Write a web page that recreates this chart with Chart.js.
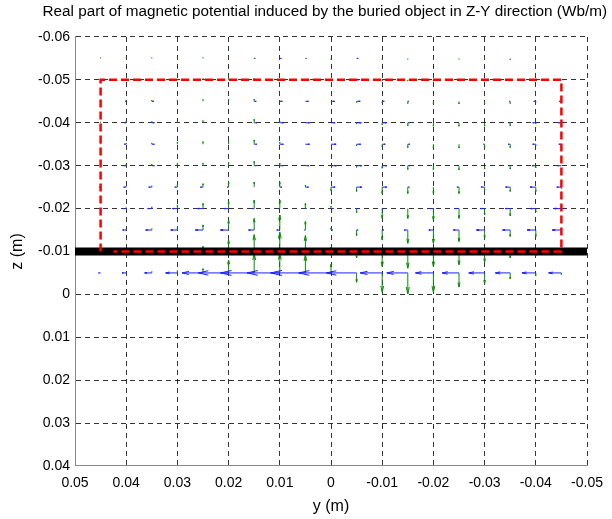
<!DOCTYPE html>
<html lang="en">
<head>
    <meta charset="UTF-8">
    <title>Real part of magnetic potential - Z-Y quiver</title>
    <script src="https://cdn.jsdelivr.net/npm/chart.js"></script>
    <style>
        html, body {
            margin: 0;
            padding: 0;
            background-color: #fff;
        }
        canvas {
            display: block;
        }
    </style>
</head>
<body>
    <canvas id="quiver" width="612" height="519"></canvas>

    <script>
        // quiver grid (m)
        const yCols = [0.045, 0.04, 0.035, 0.03, 0.025, 0.02, 0.015, 0.01, 0.005, 0,
                       -0.005, -0.01, -0.015, -0.02, -0.025, -0.03, -0.035, -0.04, -0.045];
        const zRows = [-0.055, -0.05, -0.045, -0.04, -0.035, -0.03, -0.025, -0.02, -0.015, -0.01, -0.005];

        // y component (blue), in mm, one row per z; + points to +y
        const uRows = [
            [0, 0, 0, 0, 0, 0, -0.2, -0.3, -0.2, 0, -0.3, 0, 0, 0, 0, 0, 0, 0, 0],
            [0, 0, 0, 0, 0, 0, -0.3, -0.4, -0.4, -0.3, -0.4, -0.2, 0, 0, 0, 0, 0, 0.2, 0.2],
            [0, 0.2, -0.4, 0, 0, 0, -0.4, -0.5, -0.6, -0.7, -0.7, -0.4, -0.2, 0, 0, 0, 0.2, 0.4, 0.4],
            [0, 0.3, -0.5, 0, 0, 0, -0.5, -0.7, -0.8, -0.8, -0.9, -0.8, -0.3, 0, 0, 0, 0.3, 0.6, 0.6],
            [0, 0.4, -0.5, 0, 0, 0, -0.5, -0.7, -0.8, -1.0, -0.8, -0.6, -0.4, 0, 0, 0.2, 0.4, 0.6, 0.5],
            [0, 0.5, -0.5, 0, 0, 0, -0.4, -0.6, -0.7, -1.1, -1.0, -0.9, -0.4, 0, 0, 0, 0.3, 0.7, 0.8],
            [0.2, 0.5, 0.6, 0.5, 0.5, 0.3, 0, -0.4, -0.6, -0.8, -1.0, -0.9, -0.3, 0, 0.4, 0.7, 0.9, 1.1, 0.9],
            [0.2, 0.6, 0.8, 1.0, 1.1, 0.9, 0.5, 0.2, -0.2, -0.5, -0.5, -0.4, 0, 0.6, 0.8, 0.9, 1.0, 1.1, 1.5],
            [0, 0.7, 1.2, 1.3, 1.5, 1.6, 1.1, 0.6, 0.2, -0.3, -0.3, -0.3, 0.7, 0.9, 1.1, 1.6, 1.5, 1.7, 1.8],
            [0.3, 0.8, 1.5, 2.0, 2.5, 2.5, 2.0, 1.5, 1.0, 0.5, 0.5, 1.0, 1.5, 1.8, 2.0, 2.0, 2.0, 2.0, 2.0],
            [0.4, 0.8, 1.4, 2.3, 4.1, 5.9, 6.6, 6.4, 6.8, 6.3, 5.9, 4.3, 4.1, 3.5, 3.3, 3.1, 2.9, 2.7, 2.5]
        ];

        // z component (green), in mm, one row per z; + points to +z
        const vRows = [
            [-0.2, -0.2, -0.2, -0.2, -0.2, -0.2, -0.1, 0, 0, 0.2, 0, 0.2, 0.2, 0.2, 0.2, 0.2, 0.3, 0, 0],
            [-0.2, -0.2, -0.2, -0.2, -0.3, -0.3, -0.3, 0, 0, 0, 0, 0.2, 0.3, 0.3, 0.3, 0.3, 0.3, 0.2, 0],
            [-0.2, -0.2, -0.3, -0.3, -0.4, -0.5, -0.5, -0.2, 0, 0, 0.3, 0.3, 0.5, 0.6, 0.6, 0.6, 0.5, 0.2, 0],
            [-0.2, -0.3, -0.3, -0.4, -0.5, -0.6, -0.8, -0.3, 0, 0, 0.3, 0.5, 0.7, 0.8, 0.8, 0.8, 0.7, 0.3, 0],
            [-0.2, -0.3, -0.3, -0.5, -0.6, -0.7, -1.0, -0.5, 0, 0, 0.4, 0.6, 0.8, 0.9, 0.9, 0.8, 0.8, 0.4, 0],
            [-0.2, -0.3, -0.4, -0.5, -0.6, -0.8, -1.0, -0.6, 0, 0, 0.4, 0.6, 0.9, 0.9, 1.0, 0.8, 0.8, 0.5, 0],
            [0, -0.2, -0.3, -0.6, -0.8, -1.2, -1.2, -1.2, -0.5, 0.8, 1.0, 1.5, 1.5, 1.5, 1.5, 0.8, 1.0, 1.0, 0.3],
            [0, -0.2, -0.4, -0.8, -1.2, -1.7, -2.0, -2.0, -1.2, -0.6, 1.0, 2.3, 2.3, 2.7, 2.3, 1.5, 1.7, 0.8, 0.3],
            [0, -0.2, -0.3, -0.6, -1.2, -2.3, -2.7, -3.5, -2.0, -0.5, 1.3, 2.3, 3.1, 3.1, 2.7, 1.9, 1.5, 1.5, 0.7],
            [0, -0.2, -0.4, -0.8, -1.2, -2.7, -3.9, -4.5, -3.7, -1.0, 1.5, 3.5, 3.9, 3.5, 3.1, 2.5, 1.5, 1.0, 0.5],
            [0, -0.2, -0.3, -0.5, -1.0, -3.0, -4.5, -4.6, -4.2, -2.0, 2.2, 4.5, 4.9, 4.5, 3.3, 2.5, 1.4, 0.6, 0.4]
        ];

        // buried object outline (red) and ground surface (black)
        const objectY = [0.045, 0.045, -0.045, -0.045, 0.0425];
        const objectZ = [-0.01, -0.05, -0.05, -0.01, -0.01];
        const surfaceY = [0.05, -0.05];
        const surfaceZ = [-0.01, -0.01];

        // axis limits
        const yLimits = [-0.05, 0.05];
        const zLimits = [-0.06, 0.04];
        const tickStep = 0.01;

        const fmtTick = v => {
            const r = Math.round(v * 100) / 100;
            return r === 0 ? '0' : String(r);
        };

        // matlab-like arrow: shaft + two head strokes
        function drawArrow(ctx, sx, sy, py, pz, du, dv, color) {
            const x0 = sx.getPixelForValue(py), y0 = sy.getPixelForValue(pz);
            const x1 = sx.getPixelForValue(py + du), y1 = sy.getPixelForValue(pz + dv);
            const dx = x1 - x0, dy = y1 - y0;
            const a = 0.33, b = 0.22;
            ctx.strokeStyle = color;
            ctx.beginPath();
            ctx.moveTo(x0, y0);
            ctx.lineTo(x1, y1);
            ctx.moveTo(x1 - a * (dx + b * dy), y1 - a * (dy - b * dx));
            ctx.lineTo(x1, y1);
            ctx.lineTo(x1 - a * (dx - b * dy), y1 - a * (dy + b * dx));
            ctx.stroke();
        }

        const quiverPlugin = {
            id: 'quiver',
            beforeDatasetsDraw(chart) {
                const {ctx, chartArea, scales: {x, y}} = chart;
                ctx.save();
                ctx.beginPath();
                ctx.rect(chartArea.left, chartArea.top, chartArea.width, chartArea.height);
                ctx.clip();
                ctx.lineWidth = 1;
                zRows.forEach((z, r) => {
                    yCols.forEach((yy, c) => {
                        drawArrow(ctx, x, y, yy, z, uRows[r][c] * 1e-3, 0, '#1f1fff');
                        drawArrow(ctx, x, y, yy, z, 0, vRows[r][c] * 1e-3, '#0a8a0a');
                    });
                });
                ctx.restore();
            }
        };

        Chart.defaults.font.family = '"Liberation Sans", Arial, sans-serif';
        Chart.defaults.color = '#000';

        const ctx = document.getElementById('quiver').getContext('2d');
        new Chart(ctx, {
            type: 'scatter',
            data: {
                datasets: [{
                    label: 'Object',
                    data: objectY.map((v, i) => ({x: v, y: objectZ[i]})),
                    showLine: true,
                    borderColor: '#ff0000',
                    borderWidth: 2.5,
                    borderDash: [8, 4],
                    pointRadius: 0,
                    fill: false
                },
                {
                    label: 'Surface',
                    data: surfaceY.map((v, i) => ({x: v, y: surfaceZ[i]})),
                    showLine: true,
                    borderColor: '#000',
                    borderWidth: 8,
                    pointRadius: 0,
                    fill: false
                }]
            },
            options: {
                responsive: false,
                animation: false,
                layout: {
                    padding: {left: 0, right: 5, top: 0, bottom: 0}
                },
                plugins: {
                    legend: {display: false},
                    tooltip: {enabled: false},
                    title: {
                        display: true,
                        align: 'end',
                        text: 'Real part of magnetic potential induced by the buried object in Z-Y direction (Wb/m)',
                        font: {size: 15.3, weight: 'normal'},
                        color: '#000',
                        padding: {top: 3, bottom: 15.6}
                    }
                },
                scales: {
                    x: {
                        type: 'linear',
                        reverse: true,
                        min: yLimits[0],
                        max: yLimits[1],
                        ticks: {
                            stepSize: tickStep,
                            callback: fmtTick,
                            font: {size: 14},
                            padding: 9,
                            maxRotation: 0,
                            autoSkip: false
                        },
                        grid: {color: 'rgba(0,0,0,0.8)', drawTicks: false},
                        border: {color: '#888', dash: [5, 4]},
                        title: {display: true, text: 'y (m)', font: {size: 16}, padding: {top: 0, bottom: 3}},
                        afterFit(s) {
                            s.height = 53;
                            s.paddingLeft = 0;
                            s.paddingRight = 25;
                        }
                    },
                    y: {
                        type: 'linear',
                        reverse: true,
                        min: zLimits[0],
                        max: zLimits[1],
                        ticks: {
                            stepSize: tickStep,
                            callback: fmtTick,
                            font: {size: 14},
                            padding: 5,
                            autoSkip: false
                        },
                        grid: {color: 'rgba(0,0,0,0.8)', drawTicks: false},
                        border: {color: '#888', dash: [5, 4]},
                        title: {display: true, text: 'z (m)', font: {size: 16}, padding: {top: 8, bottom: 0}},
                        afterFit(s) {
                            s.width = 75;
                            s.paddingTop = 0;
                            s.paddingBottom = 0;
                        }
                    }
                }
            },
            plugins: [quiverPlugin]
        });
    </script>
</body>
</html>
